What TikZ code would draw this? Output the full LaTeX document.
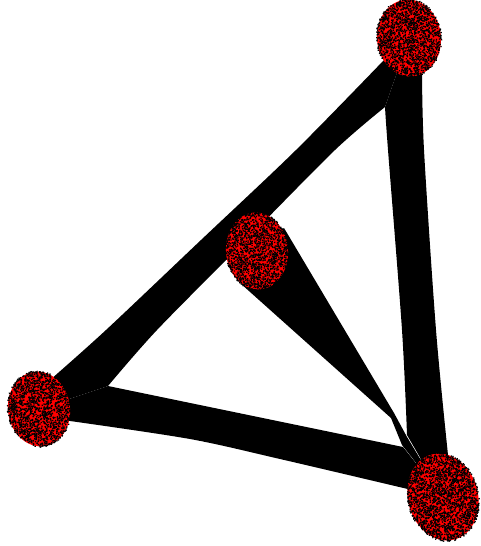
\documentclass[tikz,border=0pt]{standalone}
\usetikzlibrary{shapes.geometric,calc}
\pgfdeclarelayer{bg}
\pgfsetlayers{bg,main}
\definecolor{nodered}{RGB}{255,0,0}
\tikzset{
  vertex/.style={ellipse, fill=nodered, draw=none, inner sep=0pt},
  bundle/.style={fill=black},
  grain/.style={fill=black},
}
\newcommand\speckle[5]{%
  \begin{scope}[shift={(#1.center)}, rotate=#4]
    \foreach \i in {1,...,#5}{%
      \pgfmathsetmacro\rr{sqrt(rnd)*1.02}%
      \pgfmathsetmacro\aa{360*rnd}%
      \pgfmathsetmacro\px{\rr*#2*cos(\aa)-0.65}%
      \pgfmathsetmacro\py{\rr*#3*sin(\aa)-0.65}%
      \fill[grain] (\px,\py) rectangle ++(1.3,1.3);
    }
  \end{scope}}
\begin{document}
\begin{tikzpicture}[x=1pt,y=-1pt]
\pgfmathsetseed{4711}
\useasboundingbox (0,0) rectangle (480,546);
% vertices
\node[vertex, minimum width=64pt, minimum height=77pt, rotate=5]  (A) at (409,38)  {};
\node[vertex, minimum width=62pt, minimum height=77pt, rotate=5]  (B) at (257,251) {};
\node[vertex, minimum width=62pt, minimum height=75pt, rotate=8]  (C) at (39,409)  {};
\node[vertex, minimum width=70pt, minimum height=88pt, rotate=15] (D) at (443,497) {};
\speckle{A}{32}{38.5}{5}{1740}
\speckle{B}{31}{38.5}{5}{1690}
\speckle{C}{31}{37.5}{8}{1640}
\speckle{D}{35}{44}{15}{2180}
% edge bundles
\begin{pgfonlayer}{bg}
  \fill[bundle] (A.center) -- plot[smooth] coordinates {(384,60) (296,150) (201,240) (106,330) (50,380)}
     -- (C.center) -- plot[smooth] coordinates {(108,386) (157,330) (246,240) (335,150) (385,107)} -- cycle;
  \fill[bundle] (A.center) -- plot[smooth] coordinates {(385,107) (388,150) (402,330) (407,435)}
     -- (D.center) -- plot[smooth] coordinates {(448,455) (436,330) (424,150) (422,70)} -- cycle;
  \fill[bundle] (C.center) -- (108,386) -- (403,447)
     -- (D.center) -- plot[smooth] coordinates {(412,490) (280,459) (190,439) (70,421)} -- cycle;
  \fill[bundle] (B.center) -- (240,283) -- (391,418) -- (402,445)
     -- (D.center) -- (407,437) -- (394,413) -- (284,228) -- cycle;
\end{pgfonlayer}
\end{tikzpicture}
\end{document}
